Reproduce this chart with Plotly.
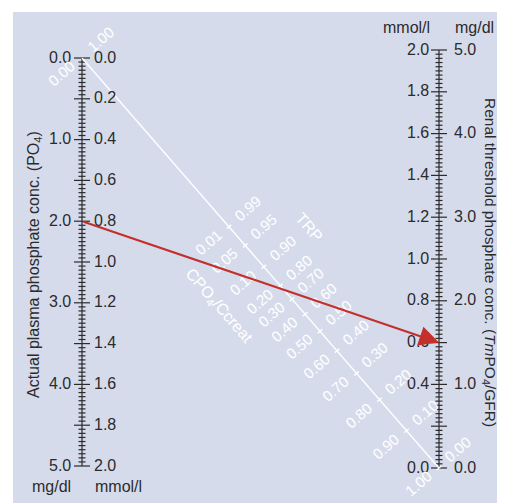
import math
import plotly.graph_objects as go

# ---------------- data ----------------
left_mmol_ticks = [0.0, 0.2, 0.4, 0.6, 0.8, 1.0, 1.2, 1.4, 1.6, 1.8, 2.0]
left_mmol_labels = ["0.0", "0.2", "0.4", "0.6", "0.8", "1.0", "1.2", "1.4", "1.6", "1.8", "2.0"]
left_mgdl_ticks = [0.0, 1.0, 2.0, 3.0, 4.0, 5.0]
left_mgdl_labels = ["0.0", "1.0", "2.0", "3.0", "4.0", "5.0"]

right_mmol_ticks = [2.0, 1.8, 1.6, 1.4, 1.2, 1.0, 0.8, 0.6, 0.4, 0.2, 0.0]
right_mmol_labels = ["2.0", "1.8", "1.6", "1.4", "1.2", "1.0", "0.8", "0.6", "0.4", "", "0.0"]
right_mgdl_ticks = [5.0, 4.0, 3.0, 2.0, 1.0, 0.0]
right_mgdl_labels = ["5.0", "4.0", "3.0", "2.0", "1.0", "0.0"]

trp_values = [0.99, 0.95, 0.90, 0.80, 0.70, 0.60, 0.50, 0.40, 0.30, 0.20, 0.10, 0.00]
trp_labels = ["0.99", "0.95", "0.90", "0.80", "0.70", "0.60", "0.50", "0.40", "0.30", "0.20", "0.10", "0.00"]
cpo4_labels = ["0.01", "0.05", "0.10", "0.20", "0.30", "0.40", "0.50", "0.60", "0.70", "0.80", "0.90", "1.00"]
top_end_labels = ["1.00", "0.00"]  # TRP, CPO4/Ccreat at the top end of the diagonal

patient_po4 = 0.8      # mmol/l, left scale
patient_tmp = 0.6      # mmol/l, right scale

MGDL_PER_MMOL_ON_CHART = 2.5

# ---------------- layout constants ----------------
W, H = 505, 503
LX, RX = 74.0, 431.0                  # axis x pixels
LTOP, LBOT = 50.0, 458.0             # left axis 0.0 / 2.0 pixels
RTOP, RBOT = 42.0, 460.0             # right axis 2.0 / 0.0 pixels
PX_X = RX - LX
PX_Y = (RBOT - RTOP) / 2.0

x_range = [-LX / PX_X, (W - LX) / PX_X]
y_range = [(RBOT - H) / PX_Y, RBOT / PX_Y]


def left_y(p):
    pix = LTOP + (LBOT - LTOP) / 2.0 * p
    return (RBOT - pix) / PX_Y


def trp_pos(trp):
    r = trp if trp <= 0.86 else 0.3 * trp / (1 - 0.8 * trp)
    return 1.0 / (1.0 + r)


def diag_point(t):
    return t, left_y(0.0) * (1 - t)


# pixel direction of diagonal
ddx, ddy = RX - LX, RBOT - LTOP
L = math.hypot(ddx, ddy)
ux, uy = ddx / L, ddy / L          # along (screen, y down)
px_, py_ = uy, -ux                 # perpendicular toward upper-right (screen)
ang = math.degrees(math.atan2(ddy, ddx))

INK = "#2b2b2b"
FONT = "Liberation Sans, Arial, Helvetica, sans-serif"

# ---------------- tick segments ----------------
tx, ty = [], []


def seg(x0, y0, x1, y1):
    tx.extend([x0, x1, None])
    ty.extend([y0, y1, None])


seg(0, left_y(0), 0, left_y(2.0))
seg(1, 0.0, 1, 2.0)
for k in range(0, 101):
    v = k * 0.02
    half = 8 if k % 10 == 0 else 3.5
    seg(-half / PX_X, left_y(v), half / PX_X, left_y(v))
    seg(1 - half / PX_X, v, 1 + half / PX_X, v)

fig = go.Figure()
fig.add_trace(go.Scatter(x=tx, y=ty, mode="lines", line=dict(color=INK, width=1.2),
                         hoverinfo="skip"))

# diagonal
x0d, y0d = diag_point(0)
x1d, y1d = diag_point(1)
fig.add_trace(go.Scatter(x=[x0d, x1d], y=[y0d, y1d], mode="lines",
                         line=dict(color="white", width=1.4), hoverinfo="skip"))
dx_, dy_ = [], []
for v in trp_values:
    t = trp_pos(v)
    xp, yp = diag_point(t)
    h = 3.0
    dx_.extend([xp - h * px_ / PX_X, xp + h * px_ / PX_X, None])
    dy_.extend([yp + h * py_ / PX_Y, yp - h * py_ / PX_Y, None])
fig.add_trace(go.Scatter(x=dx_, y=dy_, mode="lines", line=dict(color="white", width=1.4),
                         hoverinfo="skip"))

ann = []


def label(x, y, text, xanchor="center", xshift=0, yshift=0, size=16, color=INK, angle=0):
    ann.append(dict(x=x, y=y, xref="x", yref="y", text=text, showarrow=False,
                    xanchor=xanchor, yanchor="middle", xshift=xshift, yshift=yshift,
                    textangle=angle, font=dict(family=FONT, size=size, color=color)))


for v, s in zip(left_mmol_ticks, left_mmol_labels):
    label(0, left_y(v), s, "left", xshift=10, yshift=1)
for v, s in zip(left_mgdl_ticks, left_mgdl_labels):
    label(0, left_y(v / MGDL_PER_MMOL_ON_CHART), s, "right", xshift=-9, yshift=1)
for v, s in zip(right_mmol_ticks, right_mmol_labels):
    if s:
        label(1, v, s, "right", xshift=-8, yshift=1)
for v, s in zip(right_mgdl_ticks, right_mgdl_labels):
    label(1, v / MGDL_PER_MMOL_ON_CHART, s, "left", xshift=13, yshift=1)

# diagonal labels
PERP, ALONG = 26.0, -2.0


def diag_label(t, text, side):
    xp, yp = diag_point(t)
    sx = side * PERP * px_ + ALONG * ux
    sy = side * PERP * py_ + ALONG * uy
    label(xp, yp, text, "center", xshift=sx, yshift=-sy, size=15, color="white",
          angle=-(90 - ang))


for v, a, b in zip(trp_values, trp_labels, cpo4_labels):
    t = trp_pos(v)
    diag_label(t, a, +1)
    diag_label(t, b, -1)
diag_label(0.0, top_end_labels[0], +1)
diag_label(0.0, top_end_labels[1], -1)

# diagonal titles
for text, side in [("TRP", +1), ("CPO<sub>4</sub>/Ccreat", -1)]:
    xp, yp = diag_point(0.51)
    label(xp, yp, text, "center", xshift=side * 60 * px_, yshift=-side * 60 * py_,
          size=16, color="white", angle=ang)

# units
paper = dict(xref="paper", yref="paper", showarrow=False)
f16 = dict(family=FONT, size=16, color=INK)
ann.append(dict(x=43 / W, y=1 - 478 / H, text="mg/dl", xanchor="center", yanchor="middle", font=f16, **paper))
ann.append(dict(x=85 / W, y=1 - 478 / H, text="mmol/l", xanchor="left", yanchor="middle", font=f16, **paper))
ann.append(dict(x=424 / W, y=1 - 19 / H, text="mmol/l", xanchor="right", yanchor="middle", font=f16, **paper))
ann.append(dict(x=445 / W, y=1 - 19 / H, text="mg/dl", xanchor="left", yanchor="middle", font=f16, **paper))

# axis titles
ann.append(dict(x=26 / W, y=1 - 257 / H, text="Actual plasma phosphate conc. (PO<sub>4</sub>)",
                textangle=-90, xanchor="center", yanchor="middle", font=f16, **paper))
ann.append(dict(x=482 / W, y=1 - 254 / H,
                text="Renal threshold phosphate conc. (<i>Tm</i>PO<sub>4</sub>/GFR)",
                textangle=90, xanchor="center", yanchor="middle",
                font=dict(family=FONT, size=15.5, color=INK), **paper))

# patient line with arrow
ann.append(dict(x=1, y=patient_tmp, xref="x", yref="y", ax=0, ay=left_y(patient_po4),
                axref="x", ayref="y", text="", showarrow=True, arrowhead=2, arrowsize=1.8,
                arrowwidth=2.2, arrowcolor="#C3302B", standoff=0))

shapes = [
    dict(type="rect", xref="paper", yref="paper", x0=8 / W, x1=1, y0=0, y1=1 - 7 / H,
         fillcolor="#AEB5D7", line=dict(width=0), layer="below"),
    dict(type="rect", xref="paper", yref="paper", x0=5 / W, x1=502 / W, y0=1 - 499 / H,
         y1=1 - 4 / H, fillcolor="#D6DBEC", line=dict(width=0), layer="below"),
]

fig.update_layout(
    width=W, height=H, margin=dict(l=0, r=0, t=0, b=0),
    paper_bgcolor="white", plot_bgcolor="rgba(0,0,0,0)", showlegend=False,
    xaxis=dict(range=x_range, visible=False, fixedrange=True),
    yaxis=dict(range=y_range, visible=False, fixedrange=True),
    annotations=ann, shapes=shapes,
)
fig.write_html("out.html")
